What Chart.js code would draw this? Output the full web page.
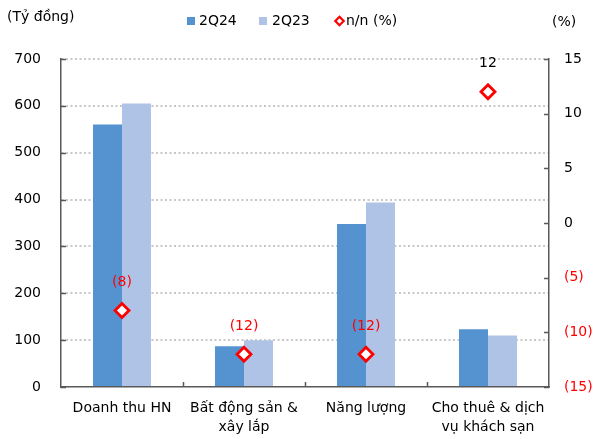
<!DOCTYPE html>
<html>
<head>
<meta charset="utf-8">
<script src="https://cdn.jsdelivr.net/npm/chart.js@4.4.1/dist/chart.umd.min.js"></script>
<style>
  html, body { margin: 0; padding: 0; background: #ffffff; }
  #wrap { width: 595px; height: 439px; }
</style>
</head>
<body>
<div id="wrap"><canvas id="chart" width="595" height="439"></canvas></div>
<script>
// Segments (multi-line labels are arrays)
const categories = [
  'Doanh thu HN',
  ['Bất động sản &', 'xây lắp'],
  'Năng lượng',
  ['Cho thuê & dịch', 'vụ khách sạn']
];
// Revenue, billion VND
const revenue2Q24 = [560, 87, 348, 123];
const revenue2Q23 = [605, 100, 394, 110];
// Year-on-year change, %
const growthYoY = [-8, -12, -12, 12];

const seriesNames = ['2Q24', '2Q23', 'n/n (%)'];
const leftAxisTitle = '(Tỷ đồng)';
const rightAxisTitle = '(%)';

const FONT = "'DejaVu Sans', 'Verdana', sans-serif";
const FS = 14;
const AXIS_COLOR = '#595959';
const RED = '#FF0000';

Chart.defaults.font.family = FONT;
Chart.defaults.font.size = FS;
Chart.defaults.color = '#000000';

const fmtPct = v => (v < 0 ? '(' + Math.abs(v) + ')' : String(v));

// Axis unit captions and a one-row legend across the top
const header = {
  id: 'header',
  afterDraw(chart) {
    const { ctx } = chart;
    const ds = chart.data.datasets;
    ctx.save();
    ctx.font = FS + 'px ' + FONT;
    ctx.fillStyle = '#000';
    ctx.textBaseline = 'middle';
    ctx.textAlign = 'left';
    ctx.fillText(leftAxisTitle, 7, 17);
    ctx.fillText(rightAxisTitle, 552, 22);

    const cy = 21;
    const items = [
      { x: 191, textX: 199 },
      { x: 263, textX: 272 },
      { x: 339.5, textX: 346 }
    ];
    items.forEach((it, i) => {
      const d = ds[i];
      if (d.type === 'bar') {
        ctx.fillStyle = d.backgroundColor;
        ctx.fillRect(it.x - 4, cy - 4, 8, 8);
      } else {
        const r = 4.2;
        ctx.beginPath();
        ctx.moveTo(it.x, cy - r);
        ctx.lineTo(it.x + r, cy);
        ctx.lineTo(it.x, cy + r);
        ctx.lineTo(it.x - r, cy);
        ctx.closePath();
        ctx.fillStyle = d.backgroundColor;
        ctx.fill();
        ctx.lineWidth = 2.2;
        ctx.strokeStyle = d.borderColor;
        ctx.stroke();
      }
      ctx.fillStyle = '#000';
      ctx.fillText(d.label, it.textX, cy);
    });
    ctx.restore();
  }
};

// Short tick marks pointing into the plot area
const innerTicks = {
  id: 'innerTicks',
  afterDraw(chart) {
    const { ctx, scales } = chart;
    const { x, y, y1 } = scales;
    const len = 5;
    ctx.save();
    ctx.strokeStyle = AXIS_COLOR;
    ctx.lineWidth = 1.5;
    ctx.beginPath();
    y.ticks.forEach(t => {
      const py = Math.round(y.getPixelForValue(t.value)) + 0.5;
      ctx.moveTo(y.right, py); ctx.lineTo(y.right + len, py);
    });
    y1.ticks.forEach(t => {
      const py = Math.round(y1.getPixelForValue(t.value)) + 0.5;
      ctx.moveTo(y1.left, py); ctx.lineTo(y1.left - len, py);
    });
    for (let i = 1; i < categories.length; i++) {
      const px = Math.round((x.getPixelForValue(i - 1) + x.getPixelForValue(i)) / 2) + 0.5;
      ctx.moveTo(px, x.top); ctx.lineTo(px, x.top - len);
    }
    ctx.stroke();
    ctx.restore();
  }
};

// Value labels above the % markers
const pctLabels = {
  id: 'pctLabels',
  afterDatasetsDraw(chart) {
    const { ctx } = chart;
    const meta = chart.getDatasetMeta(2);
    const data = chart.data.datasets[2].data;
    ctx.save();
    ctx.font = FS + 'px ' + FONT;
    ctx.textAlign = 'center';
    ctx.textBaseline = 'middle';
    meta.data.forEach((pt, i) => {
      const v = data[i];
      ctx.fillStyle = v < 0 ? RED : '#000';
      ctx.fillText(fmtPct(v), pt.x, pt.y - 28);
    });
    ctx.restore();
  }
};

new Chart(document.getElementById('chart'), {
  data: {
    labels: categories,
    datasets: [
      {
        type: 'bar',
        label: seriesNames[0],
        data: revenue2Q24,
        yAxisID: 'y',
        backgroundColor: '#5592D0',
        categoryPercentage: 0.475,
        barPercentage: 1,
        order: 2
      },
      {
        type: 'bar',
        label: seriesNames[1],
        data: revenue2Q23,
        yAxisID: 'y',
        backgroundColor: '#AEC3E6',
        categoryPercentage: 0.475,
        barPercentage: 1,
        order: 2
      },
      {
        type: 'line',
        label: seriesNames[2],
        data: growthYoY,
        yAxisID: 'y1',
        showLine: false,
        pointStyle: 'rectRot',
        pointRadius: 7,
        pointHoverRadius: 7,
        borderWidth: 2.8,
        pointBorderWidth: 2.8,
        borderColor: RED,
        backgroundColor: '#FFFFFF',
        order: 0
      }
    ]
  },
  options: {
    responsive: false,
    animation: false,
    layout: { padding: { top: 59, left: 0, right: 0, bottom: 0 } },
    plugins: {
      tooltip: { enabled: false },
      legend: { display: false }
    },
    scales: {
      x: {
        offset: true,
        grid: { display: false, drawTicks: false },
        border: { display: true, color: AXIS_COLOR, width: 1.5 },
        ticks: { padding: 12, color: '#000', font: { size: FS, lineHeight: 1.36 }, maxRotation: 0, autoSkip: false },
        afterFit: s => { s.height = 52; }
      },
      y: {
        position: 'left',
        min: 0,
        max: 700,
        ticks: { stepSize: 100, padding: 20, color: '#000' },
        grid: {
          drawTicks: false,
          color: ctx => (ctx.tick && ctx.tick.value === 0 ? 'rgba(0,0,0,0)' : '#C8C8C8'),
          lineWidth: 2
        },
        border: { display: true, color: AXIS_COLOR, width: 1.5, dash: [2, 2.5] },
        afterFit: s => { s.width = 61; }
      },
      y1: {
        position: 'right',
        min: -15,
        max: 15,
        ticks: {
          stepSize: 5,
          padding: 15,
          callback: v => fmtPct(v),
          color: ctx => (ctx.tick && ctx.tick.value < 0 ? RED : '#000')
        },
        grid: { drawOnChartArea: false, drawTicks: false },
        border: { display: true, color: AXIS_COLOR, width: 1.5 },
        afterFit: s => { s.width = 46; }
      }
    }
  },
  plugins: [header, innerTicks, pctLabels]
});
</script>
</body>
</html>
